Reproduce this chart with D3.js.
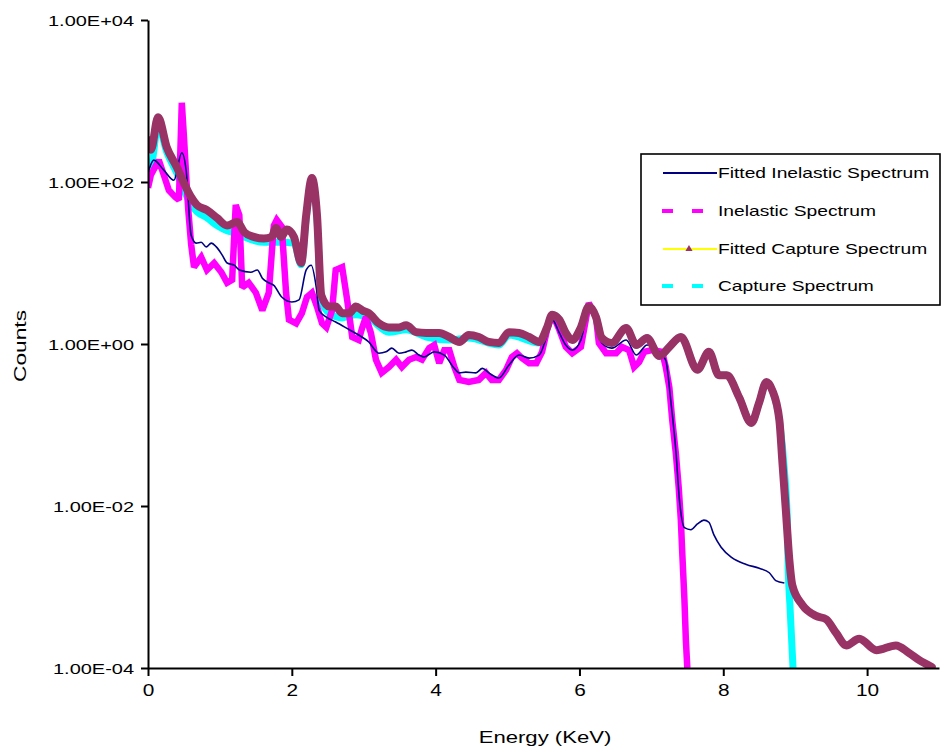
<!DOCTYPE html>
<html>
<head>
<meta charset="utf-8">
<script src="https://cdn.jsdelivr.net/npm/d3@7"></script>
<style>
  html, body { margin: 0; padding: 0; background: #ffffff; }
  svg { display: block; }
  text { font-family: "Liberation Sans", Arial, sans-serif; fill: #000; }
</style>
</head>
<body>
<svg id="chart" width="943" height="753"></svg>
<script>
// ---------- DATA ----------
// Fitted Inelastic Spectrum
const fitInelasticE = [0,0.08,0.22,0.36,0.47,0.53,0.60,0.67,0.74,0.81,0.88,0.95,1.03,1.10,1.20,1.27,1.43,1.52,1.59,1.68,1.75,1.86,2.00,2.10,2.20,2.27,2.34,2.38,2.48,2.61,2.80,2.93,3.07,3.21,3.31,3.39,3.49,3.59,3.67,3.77,3.84,3.98,4.12,4.26,4.33,4.42,4.56,4.65,4.74,4.88,5.02,5.16,5.30,5.44,5.55,5.62,5.72,5.81,5.90,6.02,6.13,6.23,6.31,6.45,6.65,6.79,6.94,7.11,7.20,7.27,7.34,7.39,7.46,7.55,7.64,7.73,7.80,7.87,7.97,8.12,8.32,8.50,8.64,8.73,8.85];
const fitInelasticC = [129,186,140,105,230,140,22,17.6,18,15.8,17.6,15.8,12.6,10,9.4,8.2,7.7,8.2,6.5,5.7,5.3,3.8,3.3,3.5,8.2,9.4,5.0,2.6,2.15,1.87,1.5,1.29,1.06,0.77,0.80,0.89,0.77,0.80,0.84,0.73,0.69,0.80,0.73,0.50,0.44,0.45,0.44,0.50,0.44,0.38,0.55,0.73,0.67,0.73,1.29,2.0,1.37,0.97,0.84,1.12,2.6,2.0,1.03,0.89,1.12,0.73,0.97,0.80,0.63,0.20,0.049,0.012,0.0054,0.0051,0.006,0.0067,0.0063,0.0044,0.0031,0.0023,0.0019,0.0017,0.0015,0.0012,0.00112];

// Inelastic Spectrum
const inelasticE = [0,0.04,0.15,0.22,0.29,0.38,0.43,0.47,0.50,0.53,0.56,0.60,0.64,0.74,0.82,0.92,1.02,1.10,1.17,1.22,1.27,1.31,1.40,1.50,1.59,1.68,1.75,1.79,1.86,1.92,1.96,2.06,2.14,2.21,2.28,2.35,2.42,2.48,2.56,2.61,2.70,2.77,2.84,2.93,2.98,3.03,3.10,3.17,3.25,3.35,3.45,3.53,3.63,3.73,3.81,3.91,3.98,4.05,4.12,4.19,4.26,4.33,4.46,4.60,4.70,4.78,4.88,4.98,5.06,5.13,5.20,5.30,5.40,5.48,5.55,5.62,5.72,5.81,5.90,6.02,6.13,6.23,6.27,6.37,6.51,6.59,6.69,6.76,6.83,6.90,7.01,7.15,7.20,7.25,7.29,7.34,7.38,7.41,7.43,7.46,7.48,7.50];
const inelasticC = [85,122,186,122,79,65,60,950,360,122,45,17,8.9,11.8,8.2,10,7.7,5.7,6.2,52,39,5.0,5.7,4.3,2.6,4.3,29,34,28,4.3,2.0,1.8,2.4,3.8,4.3,2.9,1.8,1.6,2.6,8.2,8.9,3.5,1.22,1.12,1.6,2.15,1.37,0.64,0.44,0.52,0.64,0.52,0.64,0.69,0.64,0.89,0.97,0.58,0.84,0.84,0.52,0.36,0.34,0.36,0.44,0.36,0.36,0.48,0.69,0.77,0.67,0.58,0.58,0.80,1.5,2.4,1.5,0.92,0.77,0.92,3.2,2.15,1.03,0.77,0.77,0.92,0.84,0.52,0.60,0.80,0.84,0.80,0.52,0.29,0.115,0.045,0.017,0.0067,0.0026,0.00069,0.00022,0.0001];

// Fitted Capture Spectrum
const fitCaptureE = [0,0.04,0.14,0.26,0.40,0.50,0.60,0.68,0.82,0.96,1.10,1.24,1.34,1.47,1.61,1.72,1.78,1.85,1.93,2.03,2.13,2.20,2.28,2.35,2.41,2.52,2.61,2.70,2.80,2.89,2.98,3.07,3.21,3.35,3.49,3.59,3.73,3.87,4.05,4.19,4.33,4.46,4.60,4.74,4.88,5.02,5.16,5.30,5.44,5.55,5.62,5.72,5.81,5.90,6.02,6.13,6.23,6.31,6.45,6.65,6.79,6.94,7.11,7.25,7.41,7.64,7.80,7.94,8.05,8.22,8.39,8.50,8.60,8.68,8.78,8.82,8.87,8.92,8.96,9.10,9.29,9.43,9.57,9.71,9.89,10.13,10.40,10.58,10.72,10.90];
const fitCaptureC = [330,250,630,270,153,97,65,52,45,36,29,32,24,21,20,21,27,21,26,21,10,39,112,39,4.0,2.9,2.9,2.4,2.4,2.9,2.6,2.4,1.8,1.6,1.6,1.7,1.4,1.37,1.37,1.22,1.06,1.29,1.22,1.06,1.03,1.4,1.37,1.22,1.06,1.6,2.3,2.0,1.37,1.12,1.6,2.9,2.15,1.19,1.03,1.58,0.97,1.19,0.71,0.92,1.22,0.48,0.80,0.41,0.41,0.22,0.106,0.19,0.34,0.27,0.115,0.037,0.0089,0.0021,0.00105,0.0006,0.00044,0.0004,0.00027,0.00019,0.00023,0.000166,0.00019,0.000154,0.000126,0.000103];

// Capture Spectrum
const captureE = [0,0.04,0.14,0.26,0.40,0.50,0.60,0.68,0.82,0.96,1.10,1.24,1.34,1.47,1.61,1.72,1.85,2.03,2.13,2.20,2.28,2.35,2.41,2.52,2.70,2.89,3.07,3.35,3.59,3.87,4.19,4.46,4.88,5.02,5.44,5.55,5.62,5.72,5.81,5.90,6.02,6.13,6.23,6.31,6.45,6.65,6.79,6.94,7.11,7.25,7.41,7.64,7.80,7.94,8.05,8.22,8.39,8.50,8.60,8.68,8.78,8.85,8.89,8.90,8.93,8.97];
const captureC = [186,162,500,235,129,80,52,43,36,29,25,23,21,19,18,18,18,17.6,9.5,36,106,36,3.5,2.4,2.1,2.3,2.1,1.4,1.5,1.22,1.12,1.19,0.97,1.29,1.03,1.6,2.3,2.0,1.37,1.12,1.6,2.9,2.15,1.19,1.03,1.58,0.97,1.19,0.71,0.92,1.22,0.48,0.80,0.41,0.41,0.22,0.106,0.19,0.34,0.27,0.115,0.028,0.0067,0.0022,0.00053,0.0001];

const xTickValues = [0, 2, 4, 6, 8, 10];
const xTickLabels = ["0", "2", "4", "6", "8", "10"];
const yTickValues = [1e4, 1e2, 1, 1e-2, 1e-4];
const yTickLabels = ["1.00E+04", "1.00E+02", "1.00E+00", "1.00E-02", "1.00E-04"];
const seriesNames = ["Fitted Inelastic Spectrum", "Inelastic Spectrum", "Fitted Capture Spectrum", "Capture Spectrum"];
const xTitle = "Energy (KeV)";
const yTitle = "Counts";

// ---------- CHART ----------
const svg = d3.select("#chart");
svg.append("rect").attr("width", 943).attr("height", 753).attr("fill", "#fff");

const pL = 148, pR = 939, pT = 20, pB = 668;
const x = d3.scaleLinear().domain([0, 11]).range([pL, pR]);
const y = d3.scaleLog().domain([1e-4, 1e4]).range([pB, pT]);

function stretch(sel, factor) {
  sel.each(function () {
    const w = this.getComputedTextLength();
    d3.select(this).attr("textLength", w * factor).attr("lengthAdjust", "spacingAndGlyphs");
  });
}

svg.append("clipPath").attr("id", "plotclip")
  .append("rect").attr("x", pL + 1).attr("y", 0).attr("width", pR - pL + 6).attr("height", pB);

const plot = svg.append("g").attr("clip-path", "url(#plotclip)");

const zip = (E, C) => E.map((e, i) => ({ e, c: C[i] }));
const lineSmooth = d3.line().x(d => x(d.e)).y(d => y(d.c)).curve(d3.curveMonotoneX);
const lineLin = d3.line().x(d => x(d.e)).y(d => y(d.c));

// Capture (cyan)
plot.append("path").datum(zip(captureE, captureC))
  .attr("d", lineSmooth).attr("fill", "none").attr("stroke", "#00FFFF")
  .attr("stroke-width", 7).attr("stroke-linejoin", "round").attr("stroke-linecap", "butt");

// Inelastic (magenta)
plot.append("path").datum(zip(inelasticE, inelasticC))
  .attr("d", lineLin).attr("fill", "none").attr("stroke", "#FF00FF")
  .attr("stroke-width", 6.5).attr("stroke-linejoin", "miter").attr("stroke-miterlimit", 2);

// Fitted inelastic (navy)
plot.append("path").datum(zip(fitInelasticE, fitInelasticC))
  .attr("d", lineSmooth).attr("fill", "none").attr("stroke", "#000080")
  .attr("stroke-width", 1.6).attr("stroke-linejoin", "round");

// Fitted capture (maroon band of dense markers)
plot.append("path").datum(zip(fitCaptureE, fitCaptureC))
  .attr("d", lineSmooth).attr("fill", "none").attr("stroke", "#993366")
  .attr("stroke-width", 8).attr("stroke-linejoin", "round").attr("stroke-linecap", "round");

// Axes
const yAxis = svg.append("g").attr("transform", `translate(${pL},0)`)
  .call(d3.axisLeft(y).tickValues(yTickValues).tickFormat((d, i) => yTickLabels[i]).tickSize(7).tickSizeOuter(0));
const xAxis = svg.append("g").attr("transform", `translate(0,${pB})`)
  .call(d3.axisBottom(x).tickValues(xTickValues).tickFormat((d, i) => xTickLabels[i]).tickSize(8).tickSizeOuter(0));

[yAxis, xAxis].forEach(a => {
  a.select(".domain").attr("stroke", "#000").attr("stroke-width", 2);
  a.selectAll(".tick line").attr("stroke", "#000").attr("stroke-width", 2);
  a.selectAll("text").attr("font-family", "Liberation Sans, Arial, sans-serif").attr("fill", "#000");
});
yAxis.selectAll(".tick text").attr("font-size", 15).attr("x", -14).attr("dy", "0.35em");
stretch(yAxis.selectAll(".tick text"), 1.33);
xAxis.selectAll(".tick text").attr("font-size", 16).attr("y", 17).attr("dy", "0.71em");
stretch(xAxis.selectAll(".tick text"), 1.3);

// Axis titles
const xt = svg.append("text").attr("x", 545).attr("y", 743).attr("text-anchor", "middle")
  .attr("font-size", 16).text(xTitle);
stretch(xt, 1.38);
const yt = svg.append("text").attr("transform", "translate(26,346) rotate(-90)")
  .attr("text-anchor", "middle").attr("font-size", 16).text(yTitle);
stretch(yt, 1.42);

// Legend
const lg = svg.append("g");
lg.append("rect").attr("x", 641).attr("y", 154).attr("width", 299).attr("height", 151)
  .attr("fill", "#fff").attr("stroke", "#000").attr("stroke-width", 1.6);
const ly = [173, 211, 249, 286];
lg.append("line").attr("x1", 663).attr("x2", 717).attr("y1", ly[0]).attr("y2", ly[0])
  .attr("stroke", "#000080").attr("stroke-width", 2);
lg.append("line").attr("x1", 662).attr("x2", 704).attr("y1", ly[1]).attr("y2", ly[1])
  .attr("stroke", "#FF00FF").attr("stroke-width", 4).attr("stroke-dasharray", "11 19");
lg.append("line").attr("x1", 663).attr("x2", 717).attr("y1", ly[2]).attr("y2", ly[2])
  .attr("stroke", "#FFFF00").attr("stroke-width", 2);
lg.append("path").attr("d", d3.symbol().type(d3.symbolTriangle).size(22)())
  .attr("transform", `translate(689,${ly[2]})`).attr("fill", "#993366");
lg.append("line").attr("x1", 662).attr("x2", 704).attr("y1", ly[3]).attr("y2", ly[3])
  .attr("stroke", "#00FFFF").attr("stroke-width", 4).attr("stroke-dasharray", "11 19");
const lt = lg.selectAll("text.leg").data(seriesNames).join("text").attr("class", "leg")
  .attr("x", 718).attr("y", (d, i) => ly[i]).attr("dy", "0.35em").attr("font-size", 15).text(d => d);
stretch(lt, 1.28);
</script>
</body>
</html>
